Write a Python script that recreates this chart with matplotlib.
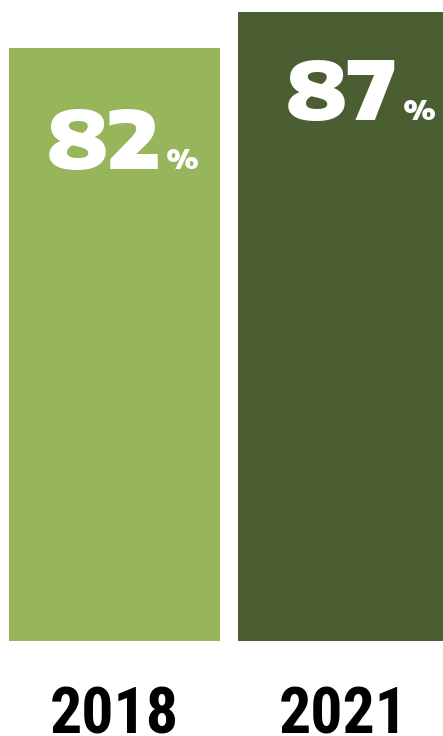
import matplotlib
matplotlib.use("Agg")
import matplotlib.pyplot as plt

years = ["2018", "2021"]
values = [82, 87]
colors = ["#97B55A", "#4A5E31"]

W, H = 443, 736
fig = plt.figure(figsize=(W / 100, H / 100), dpi=100)
fig.patch.set_facecolor("white")

ax = fig.add_axes([0, (H - 641) / H, 1, 641 / H])
pitch = 229.0
ax.set_xlim(-114.5 / pitch, (W - 114.5) / pitch)
ax.set_ylim(0, 641 / 7.23)

x = list(range(len(values)))
ax.bar(x, values, width=211 / pitch, color=colors, linewidth=0)

num_font = ["Encode Sans Expanded", "DejaVu Sans"]
label_drop = [-121, -108]      # baseline offset below bar top (px)
num_right = [46, 54]           # right edge of number from bar centre (px)
for xi, v, dy, dx in zip(x, values, label_drop, num_right):
    ax.annotate(str(v), xy=(xi, v), xytext=(dx, dy),
                textcoords="offset pixels", ha="right", va="baseline",
                fontsize=58, fontweight=900, family=num_font,
                color="white")
    ax.annotate("%", xy=(xi, v), xytext=(dx + 5, dy),
                textcoords="offset pixels", ha="left", va="baseline",
                fontsize=19, fontweight=900, family=num_font,
                color="white")

ax.set_xticks(x)
ax.set_xticklabels(years, fontsize=46, fontweight=900,
                   family=["Roboto Condensed", "DejaVu Sans"], color="black")
ax.tick_params(axis="x", length=0, pad=32)
ax.tick_params(axis="y", left=False, labelleft=False)
for s in ax.spines.values():
    s.set_visible(False)
ax.set_facecolor("white")

fig.savefig("out.png", dpi=100)
